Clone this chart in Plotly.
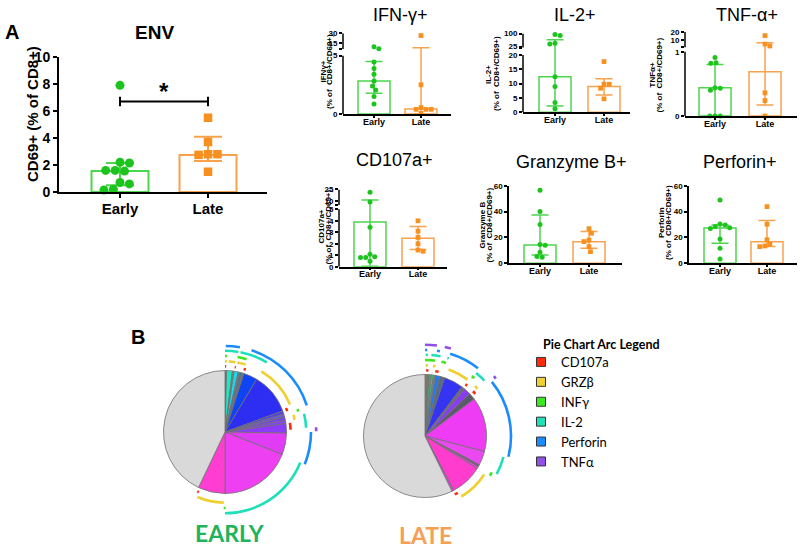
import plotly.graph_objects as go

W, H = 800, 550
ARIAL = "Liberation Sans"
CAL = "Lato"

categories = ["Early", "Late"]

# ---------------- Panel A data ----------------
env_early = [7.9, 2.2, 2.15, 1.6, 1.6, 1.55, 0.7, 0.6, 0.2, 0.15]
env_late = [5.5, 3.7, 2.8, 2.75, 2.8, 1.5]
env_center = [1.55, 2.75]
env_low = [0.5, 2.3]
env_high = [2.15, 4.1]
env_ticks = [0, 2, 4, 6, 8, 10]
env_sig_y = 6.7
env_sig_label = "*"

ifn_early = [8.7, 5.5, 4.45, 3.9, 3.4, 2.83, 2.4, 2.05, 1.5, 0.85]
ifn_late = [26.4, 2.5, 0.55, 0.4, 0.4, 0.4, 0.05]
ifn_center = [2.83, 0.43]
ifn_low = [1.77, 0.0]
ifn_high = [4.5, 7.0]
ifn_ticks_low = [0, 5]
ifn_ticks_high = [15, 30]

il2_early = [94, 89, 44.5, 39.6, 12.4, 9.0, 3.4, 1.2]
il2_late = [17.7, 9.8, 9.8, 8.4, 4.7]
il2_center = [12.4, 9.0]
il2_low = [2.2, 6.0]
il2_high = [63.7, 11.7]
il2_ticks_low = [0, 5, 10, 15, 20]
il2_ticks_high = [25, 100]

tnf_early = [0.91, 0.83, 0.82, 0.44, 0.43, 0.40, 0, 0, 0]
tnf_late = [15.3, 4.9, 2.5, 0.36, 0.24, 0]
tnf_center = [0.44, 0.69]
tnf_low = [0.0, 0.17]
tnf_high = [0.80, 6.5]
tnf_ticks_low = [0, 1]
tnf_ticks_high = [10, 20]

cd107_early = [21.2, 8.8, 3.43, 1.08, 0.87, 0.81, 0.81, 0.47]
cd107_late = [4.0, 3.1, 2.55, 2.0, 1.45, 1.35]
cd107_center = [3.9, 2.47]
cd107_low = [0.05, 1.5]
cd107_high = [11.4, 3.5]
cd107_ticks_low = [0, 1, 2, 3, 4, 5]
cd107_ticks_high = [10, 25]

grz_early = [56.5, 40, 30, 14.5, 14, 8.5, 5.2, 4.7]
grz_late = [26.8, 23.2, 18, 16.8, 12.9, 9]
grz_center = [14.2, 16.7]
grz_low = [6.4, 11.6]
grz_high = [37.4, 24.5]
grz_ticks = [0, 20, 40, 60]

prf_early = [49, 30.3, 29.6, 28.5, 27.5, 27, 18.8, 11.6, 3.4]
prf_late = [43.8, 30.2, 18.2, 14.8, 13.4, 12.9]
prf_center = [27.2, 16.7]
prf_low = [15.5, 12.9]
prf_high = [29.6, 33.0]
prf_ticks = [0, 20, 40, 60]

# ---------------- Panel B data ----------------
early_slices = [1.5, 5.5, 1.5, 4, 1.5, 2, 2, 13, 39, 3, 3, 3, 3, 9, 20.5, 68.5, 25.5, 154.5]
early_slice_colors = ["#6d6d5a", "#1ee8c4", "#808080", "#1ad8f2", "#6a8a8a", "#3a7a9a", "#707070",
                      "#0f44f5", "#2e2ef2", "#5540e6", "#6a5ad0", "#7a40f0", "#8644f2", "#8a3cf8",
                      "#e03cf5", "#ee40f2", "#ff3dd2", "#d9d9d9"]
late_slices = [2, 2, 2, 2, 2, 4, 4.7, 18.3, 3, 6.6, 6.4, 51.6, 13.4, 2, 2, 30, 2, 206]
late_slice_colors = ["#8c8c3c", "#7a7a7a", "#3cb48c", "#3cd070", "#808080", "#1e7af5", "#5a6a80",
                     "#3434f2", "#6a6a7a", "#8a3cf5", "#5a5a6a", "#ee3cf5", "#ea48f0", "#7a5a7a",
                     "#ee40f0", "#ff3ccd", "#e840e8", "#d9d9d9"]

arc_names = ["CD107a", "GRZβ", "INFγ", "IL-2", "Perforin", "TNFα"]
arc_colors = ["#ff2a0a", "#f0d030", "#3ee81e", "#1ee0b8", "#1a8cff", "#9050e8"]

early_arc_marker = ["CD107a"] * 6 + ["GRZβ"] * 6 + ["INFγ"] * 4 + ["IL-2"] * 4 + ["Perforin"] * 3 + ["TNFα"]
early_arc_start = [0, 8.5, 16.5, 68.5, 82, 203.5,
                   0, 3, 10, 31, 76, 181,
                   0, 9.5, 72.5, 179.5,
                   0, 11, 77, 112,
                   0.5, 18, 90,
                   87]
early_arc_end = [1, 9.5, 18.5, 71.5, 88, 205,
                 1.5, 8.5, 17, 67, 80, 203,
                 1.5, 16.5, 74.5, 181,
                 9.5, 31, 87, 180,
                 10, 72, 112,
                 89.5]

late_arc_marker = ["CD107a"] * 5 + ["GRZβ"] * 5 + ["INFγ"] * 4 + ["IL-2"] * 5 + ["Perforin"] * 4 + ["TNFα"] * 3
late_arc_start = [1, 9, 38, 47, 150,
                  0.5, 6.5, 19.5, 45, 123,
                  0, 12.5, 38, 118.5,
                  0.5, 4.5, 16, 39, 105,
                  0, 8, 17, 51,
                  0, 12.5, 49]
late_arc_end = [3, 12, 40, 50, 153,
                2.5, 8.5, 37, 48, 149,
                7.5, 16, 40.5, 121.5,
                2, 11, 17, 47, 118,
                1.5, 10, 38, 104,
                7.5, 16.5, 51]

# ---------------- styles ----------------
GREEN_PT, GREEN_BAR = "#1ec41e", "#4cd64c"
ORANGE_PT, ORANGE_BAR = "#f7901e", "#f9a24d"


def tf_maker(brk):
    if brk is None:
        return lambda v: v
    b, u0, u1, t0, t1 = brk
    return lambda v: v if v <= b else t0 + (v - u0) / (u1 - u0) * (t1 - t0)


def swarm(tvals, ppu_y, ppu_x, msize):
    ys = [t * ppu_y for t in tvals]
    order = sorted(range(len(ys)), key=lambda i: -ys[i])
    placed = []
    xs = [0.0] * len(ys)
    flip = 1
    for i in order:
        y = ys[i]
        cands = [0.0]
        for (xj, yj) in placed:
            dy = abs(y - yj)
            if dy < msize:
                dx = (msize ** 2 - dy ** 2) ** 0.5
                cands += [xj + dx, xj - dx]
        cands.sort(key=lambda c: (round(abs(c), 3), -flip * c))
        chosen = 0.0
        for c in cands:
            if all((c - xj) ** 2 + (y - yj) ** 2 >= msize ** 2 - 1e-6 for xj, yj in placed):
                chosen = c
                break
        if chosen != 0:
            flip = -flip
        xs[i] = chosen
        placed.append((chosen, y))
    return [x / ppu_x for x in xs]


panels = [
    dict(early=env_early, late=env_late, center=env_center, low=env_low, high=env_high,
         tl=env_ticks, th=[], brk=None, ymax=10, dom=(59, 267, 57, 192), cx=(120, 208), big=True),
    dict(early=ifn_early, late=ifn_late, center=ifn_center, low=ifn_low, high=ifn_high,
         tl=ifn_ticks_low, th=ifn_ticks_high, brk=(5, 5, 30, 5.57, 6.915), dom=(343, 451, 33.3, 114), cx=(374, 421), big=False,
         title="IFN-γ+", tpos=(400, 15), yt=["IFNγ+", "(% of  CD8+/CD69+)"], ytx=(323.5, 330), yty=72),
    dict(early=il2_early, late=il2_late, center=il2_center, low=il2_low, high=il2_high,
         tl=il2_ticks_low, th=il2_ticks_high, brk=(20, 20, 100, 22.6, 27.5), dom=(523, 630, 33.5, 112.3), cx=(555, 604), big=False,
         title="IL-2+", tpos=(575, 15), yt=["IL-2+", "(% of  CD8+/CD69+)"], ytx=(489, 497), yty=74),
    dict(early=tnf_early, late=tnf_late, center=tnf_center, low=tnf_low, high=tnf_high,
         tl=tnf_ticks_low, th=tnf_ticks_high, brk=(1, 1, 20, 1.07, 1.31), dom=(685, 797, 31.8, 116), cx=(715, 765), big=False,
         title="TNF-α+", tpos=(747, 15), yt=["TNFα+", "(% of  CD8+/CD69+)"], ytx=(651.5, 658.5), yty=75),
    dict(early=cd107_early, late=cd107_late, center=cd107_center, low=cd107_low, high=cd107_high,
         tl=cd107_ticks_low, th=cd107_ticks_high, brk=(5, 5, 25, 5.38, 6.74), dom=(339, 447, 189.4, 266.7), cx=(370, 418), big=False,
         title="CD107a+", tpos=(394, 160), yt=["CD107a+", "(% of  CD8+/CD69+)"], ytx=(320.5, 327.5), yty=227),
    dict(early=grz_early, late=grz_late, center=grz_center, low=grz_low, high=grz_high,
         tl=grz_ticks, th=[], brk=None, ymax=60, dom=(509, 622, 185.7, 263.3), cx=(540, 589), big=False,
         title="Granzyme B+", tpos=(571, 162), yt=["Granzyme B", "(% of  CD8+/CD69+)"], ytx=(481.5, 488.5), yty=225),
    dict(early=prf_early, late=prf_late, center=prf_center, low=prf_low, high=prf_high,
         tl=prf_ticks, th=[], brk=None, ymax=60, dom=(689, 797, 185.7, 263.3), cx=(720, 767), big=False,
         title="Perforin+", tpos=(740, 162), yt=["Perforin", "(% of  CD8+/CD69+)"], ytx=(661, 668), yty=223),
]

fig = go.Figure()
axes = {}
shapes = []
annotations = []


def ann(text, px, py, size, family=ARIAL, color="black", weight="normal", angle=0, xanchor="center"):
    annotations.append(dict(text=text, x=px / W, y=1 - py / H, xref="paper", yref="paper",
                            showarrow=False, xanchor=xanchor, yanchor="middle", textangle=angle,
                            font=dict(family=family, size=size, color=color, weight=weight)))


for idx, p in enumerate(panels, start=1):
    xa = "x" if idx == 1 else f"x{idx}"
    ya = "y" if idx == 1 else f"y{idx}"
    tf = tf_maker(p["brk"])
    left, right, top, bottom = p["dom"]
    cE, cL = p["cx"]
    unit = cL - cE
    xmin = -(cE - left) / unit
    xmax = 1 + (right - cL) / unit
    ymax = p["brk"][4] if p["brk"] else p["ymax"]
    ppu_y = (bottom - top) / ymax
    big = p["big"]
    msize = 9 if big else 5
    bw = (57 if big else 32) / unit
    lw = 2 if big else 1.5
    cap = 14 if big else 8.5

    groups = [(0, p["early"], GREEN_PT, GREEN_BAR, "circle"), (1, p["late"], ORANGE_PT, ORANGE_BAR, "square")]
    for gi, vals, cpt, cbar, sym in groups:
        c = tf(p["center"][gi])
        fig.add_trace(go.Bar(
            x=[gi], y=[c], width=bw, xaxis=xa, yaxis=ya, showlegend=False, hoverinfo="skip",
            marker=dict(color="rgba(0,0,0,0)", line=dict(color=cbar, width=lw)),
            error_y=dict(type="data", symmetric=False, array=[tf(p["high"][gi]) - c],
                         arrayminus=[c - tf(p["low"][gi])], color=cbar, thickness=lw, width=cap)))
    for gi, vals, cpt, cbar, sym in groups:
        tv = [tf(v) for v in vals]
        offs = swarm(tv, ppu_y, unit, msize * 1.05)
        fig.add_trace(go.Scatter(
            x=[gi + o for o in offs], y=tv, mode="markers", xaxis=xa, yaxis=ya, showlegend=False,
            hoverinfo="skip", cliponaxis=False,
            marker=dict(color=cpt, size=msize if sym == "circle" else msize * 0.95, symbol=sym, line=dict(width=0))))

    tickvals = list(p["tl"]) + [tf(v) for v in p["th"]]
    ticktext = [str(v) for v in p["tl"]] + [str(v) for v in p["th"]]
    if p["brk"]:
        tickvals.append(p["brk"][3])
        ticktext.append("")
    xkey = "xaxis" if idx == 1 else f"xaxis{idx}"
    ykey = "yaxis" if idx == 1 else f"yaxis{idx}"
    tfont = dict(family=ARIAL, size=14 if big else 8, color="black", weight="bold")
    xfont = dict(family=ARIAL, size=15 if big else 9, color="black", weight="bold")
    axes[xkey] = dict(domain=[left / W, right / W], range=[xmin, xmax], anchor=ya,
                      showline=True, linecolor="black", linewidth=lw, ticks="outside",
                      ticklen=4 if big else 2, tickwidth=lw, tickcolor="black",
                      ticklabelstandoff=-2 if big else -4,
                      tickvals=[0, 1], ticktext=categories, tickfont=xfont, automargin=False,
                      showgrid=False, zeroline=False, fixedrange=True)
    axes[ykey] = dict(domain=[1 - bottom / H, 1 - top / H], range=[0, ymax], anchor=xa,
                      showline=p["brk"] is None, linecolor="black", linewidth=lw, ticks="outside",
                      ticklen=4 if big else 3, tickwidth=lw, tickcolor="black",
                      tickvals=tickvals, ticktext=ticktext, tickfont=tfont, automargin=False,
                      showgrid=False, zeroline=False, fixedrange=True)
    if p["brk"]:
        b, u0, u1, t0, t1 = p["brk"]
        for y0, y1 in [(0, b), (t0, t1)]:
            shapes.append(dict(type="line", xref=f"{xa} domain", yref=ya, x0=0, x1=0, y0=y0, y1=y1,
                               line=dict(color="black", width=lw)))
    if not big:
        ann(p["title"], p["tpos"][0], p["tpos"][1], 18)
        for line, lx in zip(p["yt"], p["ytx"]):
            ann(line, lx, p["yty"], 8, weight="bold", angle=-90)

# significance bracket in panel A
d = 0.35
fig.add_trace(go.Scatter(
    x=[0, 0, None, 0, 1, None, 1, 1],
    y=[env_sig_y - d, env_sig_y + d, None, env_sig_y, env_sig_y, None, env_sig_y - d, env_sig_y + d],
    mode="lines", line=dict(color="black", width=2), xaxis="x", yaxis="y",
    showlegend=False, hoverinfo="skip"))
annotations.append(dict(text=env_sig_label, x=0.5, y=env_sig_y + 0.75, xref="x", yref="y",
                        showarrow=False, font=dict(family=ARIAL, size=24, color="black", weight="bold")))

ann("A", 12, 32, 20, weight="bold")
ann("ENV", 154, 32, 19, weight="bold")
ann("CD69+ (% of CD8+)", 32, 114, 15, weight="bold", angle=-90)

# ---------------- Panel B: pies ----------------
PIE_R = 61.5
RING_R = {"CD107a": 65.6, "GRZβ": 70.6, "INFγ": 76.0, "IL-2": 81.2, "Perforin": 86.0, "TNFα": 91.2}
THICK = 2.6
RMAX = 96
pies = [
    dict(values=early_slices, colors=early_slice_colors, marker=early_arc_marker, start=early_arc_start,
         end=early_arc_end, c=(225, 432), polar="polar"),
    dict(values=late_slices, colors=late_slice_colors, marker=late_arc_marker, start=late_arc_start,
         end=late_arc_end, c=(425, 436), polar="polar2"),
]
polars = {}
for pe in pies:
    cx, cy = pe["c"]
    fig.add_trace(go.Pie(
        values=pe["values"], marker=dict(colors=pe["colors"], line=dict(color="#707070", width=0.8)),
        domain=dict(x=[(cx - PIE_R) / W, (cx + PIE_R) / W], y=[1 - (cy + PIE_R) / H, 1 - (cy - PIE_R) / H]),
        sort=False, direction="clockwise", rotation=0, textinfo="none", hoverinfo="skip", showlegend=False))
    col = {n: c for n, c in zip(arc_names, arc_colors)}
    fig.add_trace(go.Barpolar(
        r=[THICK] * len(pe["marker"]),
        base=[RING_R[m] - THICK / 2 for m in pe["marker"]],
        theta=[(s + e) / 2 for s, e in zip(pe["start"], pe["end"])],
        width=[e - s for s, e in zip(pe["start"], pe["end"])],
        marker=dict(color=[col[m] for m in pe["marker"]], line=dict(width=0)),
        subplot=pe["polar"], showlegend=False, hoverinfo="skip"))
    polars[pe["polar"]] = dict(
        domain=dict(x=[(cx - RMAX) / W, (cx + RMAX) / W], y=[1 - (cy + RMAX) / H, 1 - (cy - RMAX) / H]),
        bgcolor="rgba(0,0,0,0)", barmode="overlay",
        radialaxis=dict(range=[0, RMAX], visible=False, showgrid=False),
        angularaxis=dict(rotation=90, direction="clockwise", visible=False, showgrid=False))

# legend entries for arcs
for n, c in zip(arc_names, arc_colors):
    fig.add_trace(go.Scatter(x=[None], y=[None], mode="markers", name=n, xaxis="x", yaxis="y",
                             marker=dict(symbol="square", size=9, color=c, line=dict(color="#333333", width=1))))

ann("B", 138, 337, 20, weight="bold")
ann("EARLY", 230, 533, 23, family=CAL, color="#21b35b", weight="bold")
ann("LATE", 425, 535, 23, family=CAL, color="#f5a052", weight="bold")
ann("Pie Chart Arc Legend", 541, 344, 12.5, family=CAL, weight="bold", xanchor="left")

fig.update_layout(
    width=W, height=H, margin=dict(l=0, r=0, t=0, b=0, pad=0, autoexpand=False),
    paper_bgcolor="white", plot_bgcolor="rgba(0,0,0,0)", barmode="overlay",
    showlegend=True,
    legend=dict(x=521 / W, y=1 - 347 / H, xanchor="left", yanchor="top", bgcolor="rgba(0,0,0,0)",
                font=dict(family=CAL, size=13, color="black"), tracegroupgap=0),
    annotations=annotations, shapes=shapes, **axes, **polars)

fig.write_html("out.html", config={"displayModeBar": False},
               post_script="document.body.style.margin='0';document.body.style.overflow='hidden';")
